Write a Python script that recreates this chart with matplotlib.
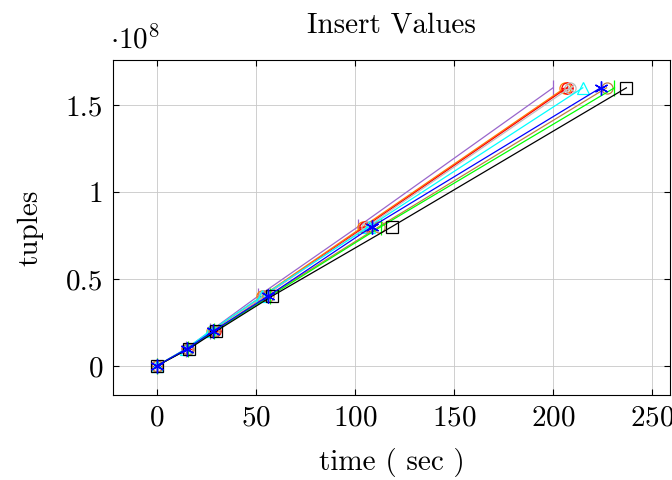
import matplotlib.pyplot as plt
import numpy as np

plt.rcParams['font.family'] = 'cmr10'
plt.rcParams['mathtext.fontset'] = 'cm'
plt.rcParams['axes.unicode_minus'] = False
plt.rcParams['axes.formatter.use_mathtext'] = True

tuples = [0, 1e7, 2e7, 4e7, 8e7, 1.6e8]

# time (sec) per run
t_violet = [0, 15.0, 27.0, 51.0, 101.5, 200.0]
t_orange = [0, 15.5, 28.0, 53.0, 104.0, 206.0]
t_red    = [0, 15.5, 29.5, 54.0, 105.0, 207.0]
t_gray   = [0, 15.5, 28.5, 54.0, 106.0, 208.5]
t_cyan   = [0, 15.0, 27.0, 53.0, 107.0, 215.0]
t_brown  = [0, 16.0, 29.0, 56.0, 112.0, 227.0]
t_green  = [0, 16.0, 29.0, 57.0, 113.0, 231.0]
t_black  = [0, 16.5, 30.0, 58.0, 118.5, 237.0]
t_blue   = [0, 15.5, 28.5, 56.0, 108.5, 224.0]

fig = plt.figure(figsize=(6.72, 4.8), dpi=100)
ax = fig.add_axes([113/672, 1-395/480, 557/672, 335/480])

lw = 0.9
ms = 8
fs = 21
ax.plot(t_violet, tuples, color='#9966cc', lw=lw, marker='|', ms=12, mew=lw)
ax.plot(t_orange, tuples, color='#ff8000', lw=lw, marker='o', ms=ms, mfc='none', mew=lw)
ax.plot(t_red, tuples, color='red', lw=lw, marker='o', ms=ms, mfc='none', mew=lw)
ax.plot(t_red, tuples, color='red', lw=0, marker='+', ms=ms, mew=lw)
ax.plot(t_gray, tuples, color='#bfbfbf', lw=lw, marker='o', ms=ms, mfc='none', mew=lw)
ax.plot(t_gray, tuples, color='#bfbfbf', lw=0, marker='x', ms=ms*0.7, mew=lw)
ax.plot(t_cyan, tuples, color='cyan', lw=lw, marker='^', ms=ms, mfc='none', mew=lw)
ax.plot(t_brown, tuples, color='#bf8040', lw=lw, marker='o', ms=ms, mfc='none', mew=lw)
ax.plot(t_green, tuples, color='#00ff00', lw=lw, marker='|', ms=12, mew=lw)
ax.plot(t_black, tuples, color='black', lw=lw, marker='s', ms=ms, mfc='none', mew=lw)
ax.plot(t_blue, tuples, color='blue', lw=lw, marker=(6, 2, 0), ms=10, mew=1.0)

ax.set_xlim(-22, 259)
ax.set_ylim(-0.167e8, 1.76e8)
ax.set_xticks([0, 50, 100, 150, 200, 250])
ax.set_yticks([0, 0.5e8, 1e8, 1.5e8])
ax.set_yticklabels(['0', '0.5', '1', '1.5'])
ax.grid(True, color='#c8c8c8', lw=0.6)
ax.set_axisbelow(True)
ax.tick_params(direction='in', top=True, right=True, length=4, labelsize=fs, pad=7)
for s in ax.spines.values():
    s.set_linewidth(0.8)

ax.set_title('Insert Values', fontsize=fs, pad=20)
ax.set_xlabel('time ( sec )', fontsize=fs, labelpad=12)
ax.set_ylabel('tuples', fontsize=fs, labelpad=16)
fig.text(110/672, 1-40/480, r'$\cdot 10^{8}$', fontsize=fs, va='center', ha='left')

fig.savefig('out.png', dpi=100)
